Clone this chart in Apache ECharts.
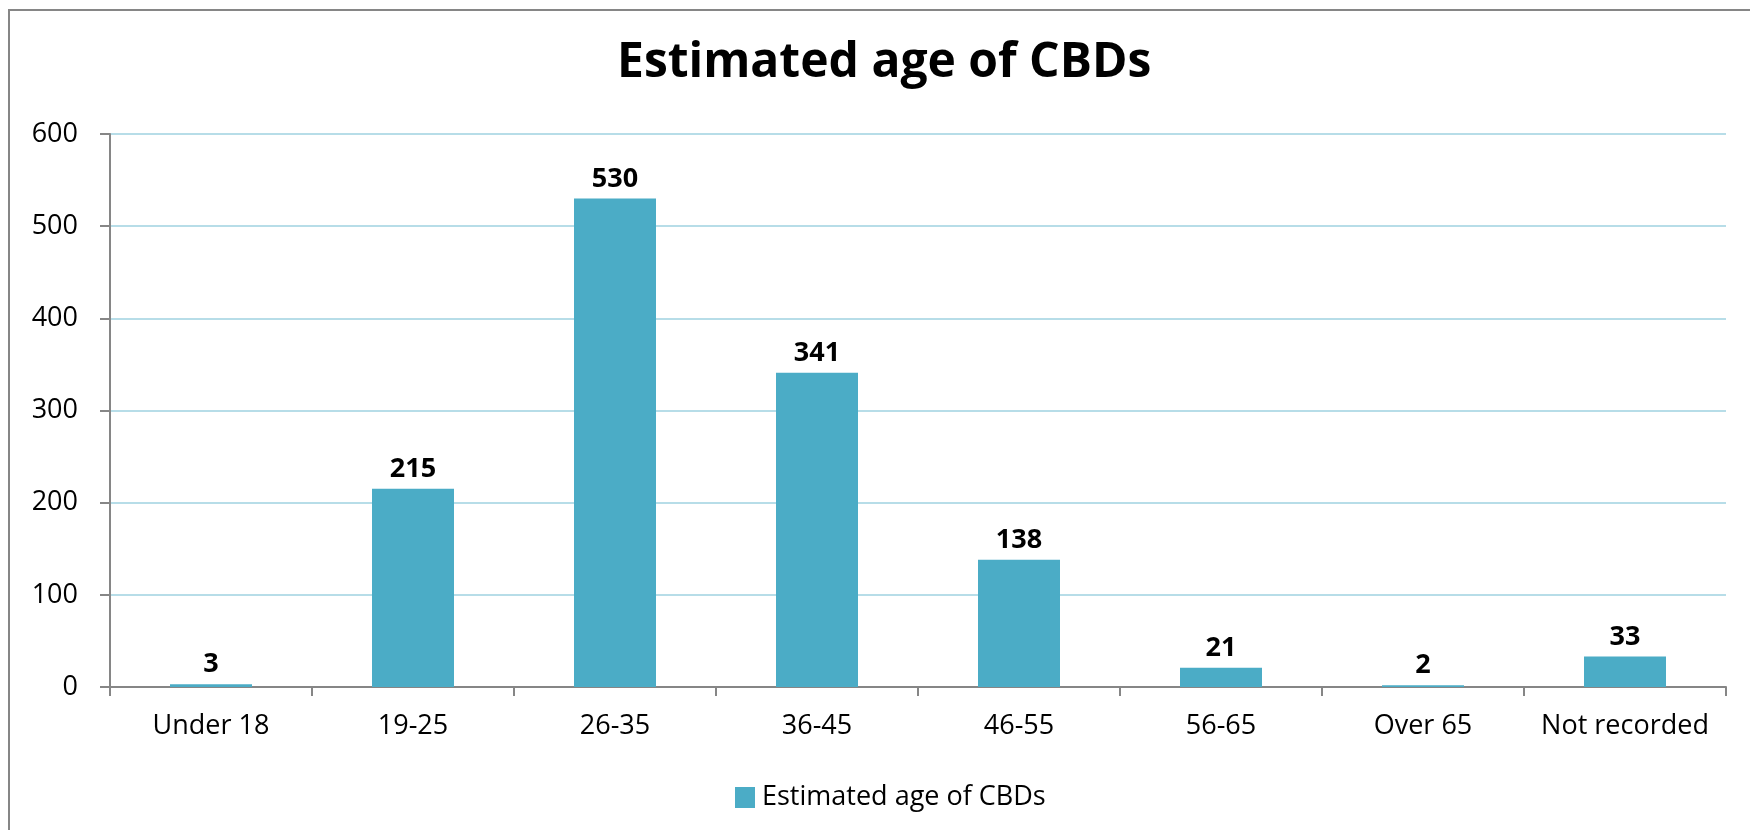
<!DOCTYPE html>
<html>
<head>
<meta charset="utf-8">
<title>Estimated age of CBDs</title>
<script src="https://cdn.jsdelivr.net/npm/echarts@6/dist/echarts.min.js"></script>
<style>
  html, body { margin: 0; padding: 0; background: #fff; }
  #chart { width: 1750px; height: 830px; }
</style>
</head>
<body>
<div id="chart"></div>
<script>
const AGE_GROUPS = ["Under 18", "19-25", "26-35", "36-45", "46-55", "56-65", "Over 65", "Not recorded"]
const CBD_COUNTS = [3, 215, 530, 341, 138, 21, 2, 33]
const Y_TICKS = { min: 0, max: 600, interval: 100 }

const SERIES_NAME = "Estimated age of CBDs"
const BAR_COLOR = "#4bacc6"
const AXIS_COLOR = "#868686"
const GRID_COLOR = "#b7dde8"
const FONT = "'Open Sans', 'Noto Sans', sans-serif"

const chart = echarts.init(document.getElementById("chart"), null, { renderer: "canvas" })

chart.setOption({
  animation: false,
  backgroundColor: "#ffffff",
  textStyle: { fontFamily: FONT, color: "#000" },
  graphic: [{
    type: "rect",
    shape: { x: 9, y: 10, width: 1800, height: 900 },
    style: { fill: "none", stroke: AXIS_COLOR, lineWidth: 2 },
    silent: true
  }],
  title: {
    text: "Estimated age of CBDs",
    left: 612,
    top: 34,
    textStyle: { fontFamily: FONT, fontSize: 48, fontWeight: "bold", color: "#000" }
  },
  legend: {
    left: 730,
    top: 779,
    itemWidth: 20,
    itemHeight: 21,
    itemGap: 10,
    icon: "rect",
    textStyle: { fontFamily: FONT, fontSize: 27, color: "#000", padding: [0, 0, 0, 2] },
    data: [SERIES_NAME]
  },
  grid: { left: 110, right: 24, top: 134, bottom: 143 },
  xAxis: {
    type: "category",
    data: AGE_GROUPS,
    axisLine: { lineStyle: { color: AXIS_COLOR, width: 2 } },
    axisTick: { show: true, interval: 0, length: 9, lineStyle: { color: AXIS_COLOR, width: 2 } },
    axisLabel: { interval: 0, color: "#000", fontFamily: FONT, fontSize: 27, margin: 26 }
  },
  yAxis: {
    type: "value",
    min: Y_TICKS.min,
    max: Y_TICKS.max,
    interval: Y_TICKS.interval,
    axisLine: { show: true, lineStyle: { color: AXIS_COLOR, width: 2 } },
    axisTick: { show: true, length: 10, lineStyle: { color: AXIS_COLOR, width: 2 } },
    axisLabel: { color: "#000", fontFamily: FONT, fontSize: 27, margin: 32 },
    splitLine: { lineStyle: { color: GRID_COLOR, width: 2 } }
  },
  series: [{
    name: SERIES_NAME,
    type: "bar",
    data: CBD_COUNTS,
    barWidth: 82,
    itemStyle: { color: BAR_COLOR },
    label: {
      show: true,
      position: "top",
      distance: 6,
      color: "#000",
      fontFamily: FONT,
      fontSize: 27,
      fontWeight: "bold"
    }
  }]
})
</script>
</body>
</html>
